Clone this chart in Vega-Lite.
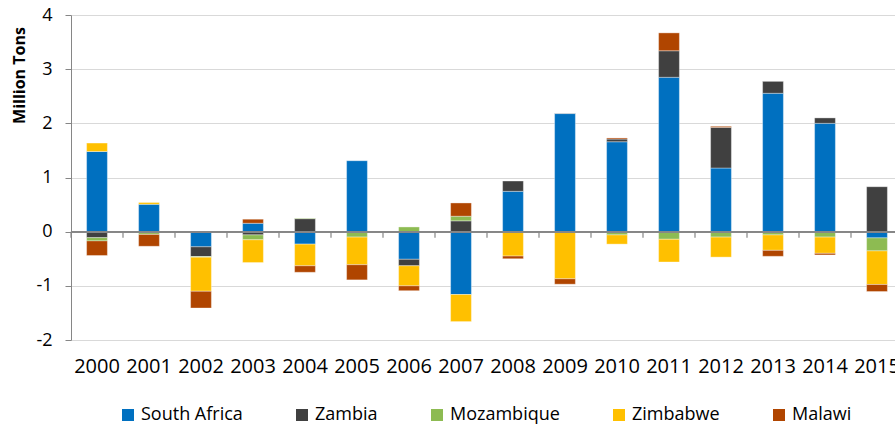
{
  "$schema": "https://vega.github.io/schema/vega-lite/v6.json",
  "width": 832,
  "height": 325,
  "autosize": "none",
  "padding": {"left": 71, "top": 15, "right": 0, "bottom": 85},
  "background": "white",
  "config": {
    "view": {"stroke": null},
    "font": "Open Sans",
    "axis": {"labelColor": "#000000", "titleColor": "#000000"},
    "legend": {"labelColor": "#000000", "padding": 0}
  },
  "data": {
    "values": [
      {"year": "2000", "country": "South Africa", "value": 1.48},
      {"year": "2000", "country": "Zambia", "value": -0.11},
      {"year": "2000", "country": "Mozambique", "value": -0.06},
      {"year": "2000", "country": "Zimbabwe", "value": 0.155},
      {"year": "2000", "country": "Malawi", "value": -0.27},
      {"year": "2001", "country": "South Africa", "value": 0.505},
      {"year": "2001", "country": "Zambia", "value": -0.01},
      {"year": "2001", "country": "Mozambique", "value": -0.04},
      {"year": "2001", "country": "Zimbabwe", "value": 0.035},
      {"year": "2001", "country": "Malawi", "value": -0.22},
      {"year": "2002", "country": "South Africa", "value": -0.28},
      {"year": "2002", "country": "Zambia", "value": -0.18},
      {"year": "2002", "country": "Mozambique", "value": -0.01},
      {"year": "2002", "country": "Zimbabwe", "value": -0.63},
      {"year": "2002", "country": "Malawi", "value": -0.31},
      {"year": "2003", "country": "South Africa", "value": 0.155},
      {"year": "2003", "country": "Zambia", "value": -0.06},
      {"year": "2003", "country": "Mozambique", "value": -0.09},
      {"year": "2003", "country": "Zimbabwe", "value": -0.42},
      {"year": "2003", "country": "Malawi", "value": 0.075},
      {"year": "2004", "country": "South Africa", "value": -0.23},
      {"year": "2004", "country": "Zambia", "value": 0.24},
      {"year": "2004", "country": "Mozambique", "value": 0.01},
      {"year": "2004", "country": "Zimbabwe", "value": -0.4},
      {"year": "2004", "country": "Malawi", "value": -0.12},
      {"year": "2005", "country": "South Africa", "value": 1.31},
      {"year": "2005", "country": "Zambia", "value": -0.01},
      {"year": "2005", "country": "Mozambique", "value": -0.09},
      {"year": "2005", "country": "Zimbabwe", "value": -0.51},
      {"year": "2005", "country": "Malawi", "value": -0.28},
      {"year": "2006", "country": "South Africa", "value": -0.51},
      {"year": "2006", "country": "Zambia", "value": -0.12},
      {"year": "2006", "country": "Mozambique", "value": 0.087},
      {"year": "2006", "country": "Zimbabwe", "value": -0.37},
      {"year": "2006", "country": "Malawi", "value": -0.09},
      {"year": "2007", "country": "South Africa", "value": -1.16},
      {"year": "2007", "country": "Zambia", "value": 0.2},
      {"year": "2007", "country": "Mozambique", "value": 0.085},
      {"year": "2007", "country": "Zimbabwe", "value": -0.5},
      {"year": "2007", "country": "Malawi", "value": 0.245},
      {"year": "2008", "country": "South Africa", "value": 0.745},
      {"year": "2008", "country": "Zambia", "value": 0.19},
      {"year": "2008", "country": "Mozambique", "value": -0.01},
      {"year": "2008", "country": "Zimbabwe", "value": -0.44},
      {"year": "2008", "country": "Malawi", "value": -0.05},
      {"year": "2009", "country": "South Africa", "value": 2.18},
      {"year": "2009", "country": "Zambia", "value": 0.005},
      {"year": "2009", "country": "Mozambique", "value": -0.01},
      {"year": "2009", "country": "Zimbabwe", "value": -0.86},
      {"year": "2009", "country": "Malawi", "value": -0.1},
      {"year": "2010", "country": "South Africa", "value": 1.66},
      {"year": "2010", "country": "Zambia", "value": 0.05},
      {"year": "2010", "country": "Mozambique", "value": -0.06},
      {"year": "2010", "country": "Zimbabwe", "value": -0.17},
      {"year": "2010", "country": "Malawi", "value": 0.02},
      {"year": "2011", "country": "South Africa", "value": 2.85},
      {"year": "2011", "country": "Zambia", "value": 0.49},
      {"year": "2011", "country": "Mozambique", "value": -0.14},
      {"year": "2011", "country": "Zimbabwe", "value": -0.42},
      {"year": "2011", "country": "Malawi", "value": 0.33},
      {"year": "2012", "country": "South Africa", "value": 1.175},
      {"year": "2012", "country": "Zambia", "value": 0.75},
      {"year": "2012", "country": "Mozambique", "value": -0.1},
      {"year": "2012", "country": "Zimbabwe", "value": -0.37},
      {"year": "2012", "country": "Malawi", "value": 0.02},
      {"year": "2013", "country": "South Africa", "value": 2.555},
      {"year": "2013", "country": "Zambia", "value": 0.22},
      {"year": "2013", "country": "Mozambique", "value": -0.06},
      {"year": "2013", "country": "Zimbabwe", "value": -0.285},
      {"year": "2013", "country": "Malawi", "value": -0.11},
      {"year": "2014", "country": "South Africa", "value": 2.0},
      {"year": "2014", "country": "Zambia", "value": 0.1},
      {"year": "2014", "country": "Mozambique", "value": -0.1},
      {"year": "2014", "country": "Zimbabwe", "value": -0.3},
      {"year": "2014", "country": "Malawi", "value": -0.03},
      {"year": "2015", "country": "South Africa", "value": -0.115},
      {"year": "2015", "country": "Zambia", "value": 0.83},
      {"year": "2015", "country": "Mozambique", "value": -0.24},
      {"year": "2015", "country": "Zimbabwe", "value": -0.62},
      {"year": "2015", "country": "Malawi", "value": -0.13}
    ]
  },
  "layer": [
    {
      "transform": [
        {"calculate": "indexof(['South Africa','Zambia','Mozambique','Zimbabwe','Malawi'], datum.country)", "as": "stackOrder"}
      ],
      "mark": {"type": "bar", "stroke": "#ffffff", "strokeWidth": 0.6, "strokeOpacity": 0.6},
      "encoding": {
        "x": {
          "field": "year",
          "type": "ordinal",
          "scale": {"paddingInner": 0.6, "paddingOuter": 0.3},
          "axis": {
            "title": null,
            "labelAngle": 0,
            "labelFontSize": 20,
            "labelPadding": 16,
            "ticks": false,
            "domain": false,
            "grid": false
          }
        },
        "y": {
          "field": "value",
          "type": "quantitative",
          "stack": "zero",
          "scale": {"domain": [-2, 4], "nice": false},
          "axis": {
            "title": "Million Tons",
            "titleFontSize": 16,
            "titleFontWeight": "bold",
            "titleAlign": "center",
            "titleY": 60,
            "titlePadding": 8,
            "values": [-2, -1, 0, 1, 2, 3, 4],
            "format": "d",
            "labelExpr": "replace(datum.label, '\u2212', '-')",
            "labelFontSize": 18,
            "labelPadding": 13,
            "tickSize": 6,
            "tickColor": "#868686",
            "domainColor": "#868686",
            "gridColor": "#d9d9d9",
            "gridWidth": 1.2
          }
        },
        "order": {"field": "stackOrder", "type": "quantitative", "sort": "ascending"},
        "color": {
          "field": "country",
          "type": "nominal",
          "sort": ["South Africa", "Zambia", "Mozambique", "Zimbabwe", "Malawi"],
          "scale": {
            "domain": ["South Africa", "Zambia", "Mozambique", "Zimbabwe", "Malawi"],
            "range": ["#0070C0", "#404040", "#8DBB52", "#FFC000", "#B04500"]
          },
          "legend": {
            "title": null,
            "orient": "none",
            "legendX": 48,
            "legendY": 391,
            "direction": "horizontal",
            "symbolType": "square",
            "symbolSize": 144,
            "symbolStrokeWidth": 0,
            "labelFontSize": 18,
            "columnPadding": 50
          }
        }
      }
    },
    {
      "mark": {"type": "rule", "color": "#868686", "strokeWidth": 1.2},
      "encoding": {"y": {"datum": 0}}
    },
    {
      "data": {"values": [
        {"year": "2000"}, {"year": "2001"}, {"year": "2002"}, {"year": "2003"},
        {"year": "2004"}, {"year": "2005"}, {"year": "2006"}, {"year": "2007"},
        {"year": "2008"}, {"year": "2009"}, {"year": "2010"}, {"year": "2011"},
        {"year": "2012"}, {"year": "2013"}, {"year": "2014"}, {"year": "2015"}
      ]},
      "mark": {"type": "rule", "color": "#868686", "strokeWidth": 1.2},
      "encoding": {
        "x": {"field": "year", "type": "ordinal", "bandPosition": -0.75},
        "y": {"datum": 0},
        "y2": {"datum": -0.11}
      }
    }
  ]
}
